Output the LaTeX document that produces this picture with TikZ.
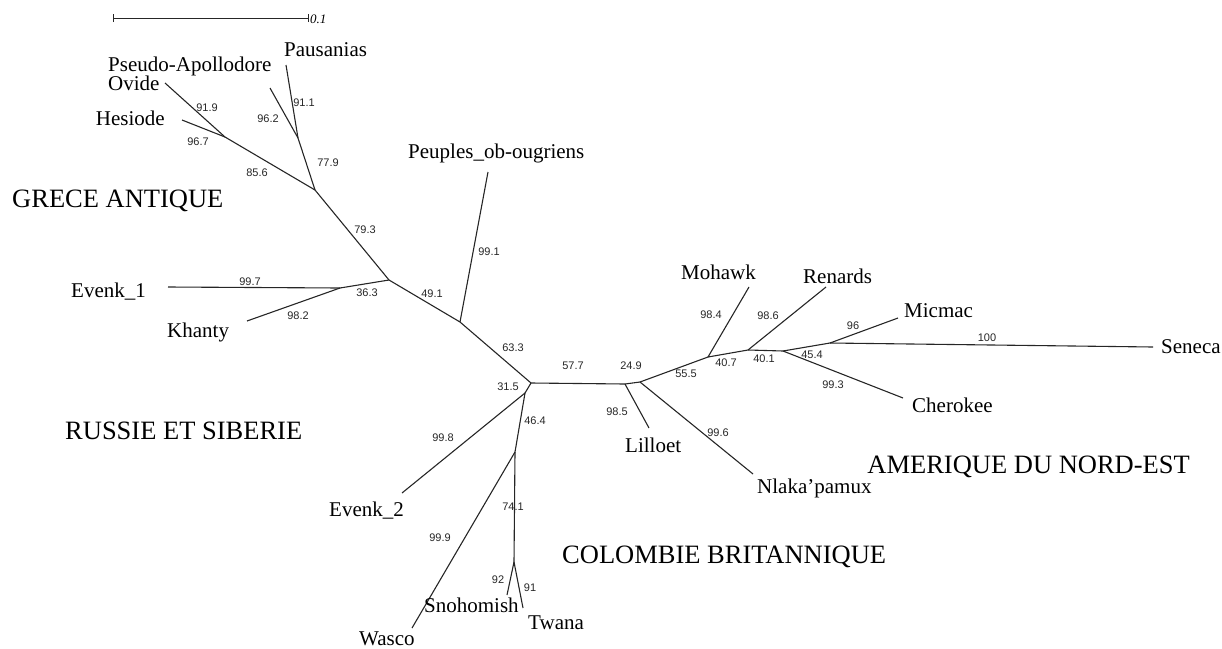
\documentclass[tikz,border=0pt]{standalone}
\usepackage{fontspec}
\setmainfont{Liberation Serif}
\newfontfamily\numfont{Liberation Sans}
\begin{document}
\begin{tikzpicture}[x=1pt,y=-1pt,
  br/.style={draw=black!85,line width=1.1pt},
  leaf/.style={inner sep=0pt,font=\fontsize{21}{24}\selectfont},
  region/.style={inner sep=0pt,font=\fontsize{26.5}{30}\selectfont},
  num/.style={inner sep=0pt,font=\numfont\fontsize{11}{12}\selectfont,text=black!85}]
\useasboundingbox (0,0) rectangle (1222,648);
% scale bar
\coordinate (sb1) at (113,18);
\coordinate (sb2) at (308,18);
\draw[br,line width=1pt] (sb1) -- (sb2);
\draw[br,line width=1pt] ([yshift=-4pt]sb1) -- ([yshift=4pt]sb1);
\draw[br,line width=1pt] ([yshift=-4pt]sb2) -- ([yshift=4pt]sb2);
\node[inner sep=0pt,anchor=west,font=\itshape\fontsize{13}{14}\selectfont] (sbl) at (310,19) {0.1};
% internal nodes
\coordinate (G1) at (225,137);
\coordinate (G2) at (298,138);
\coordinate (G3) at (315,190);
\coordinate (R0) at (340,288);
\coordinate (R1) at (389,280);
\coordinate (R2) at (460,322);
\coordinate (C0) at (531,383);
\coordinate (B1) at (625,384);
\coordinate (B2) at (640,382);
\coordinate (M1) at (708,357);
\coordinate (M2) at (748,350);
\coordinate (M3) at (783,351);
\coordinate (M4) at (830,343);
\coordinate (S1) at (525,393);
\coordinate (S2) at (515,452);
\coordinate (S3) at (514,562);
% leaves
\coordinate (lPaus) at (286,65);
\coordinate (lPsA) at (270,88);
\coordinate (lOvi) at (165,83);
\coordinate (lHes) at (182,120);
\coordinate (lEv1) at (168,287);
\coordinate (lKha) at (247,321);
\coordinate (lPeu) at (488,172);
\coordinate (lLil) at (649,428);
\coordinate (lNla) at (753,474);
\coordinate (lMoh) at (749,287);
\coordinate (lRen) at (826,287);
\coordinate (lChe) at (903,398);
\coordinate (lMic) at (898,318);
\coordinate (lSen) at (1153,347);
\coordinate (lEv2) at (402,493);
\coordinate (lWas) at (412,628);
\coordinate (lSno) at (507,595);
\coordinate (lTwa) at (523,608);
% branches
\draw[br] (lPaus) -- (G2);
\draw[br] (lPsA) -- (G2);
\draw[br] (G2) -- (G3);
\draw[br] (lOvi) -- (G1);
\draw[br] (lHes) -- (G1);
\draw[br] (G1) -- (G3);
\draw[br] (G3) -- (R1);
\draw[br] (lEv1) -- (R0);
\draw[br] (lKha) -- (R0);
\draw[br] (R0) -- (R1);
\draw[br] (R1) -- (R2);
\draw[br] (R2) -- (lPeu);
\draw[br] (R2) -- (C0);
\draw[br] (C0) -- (B1);
\draw[br] (B1) -- (lLil);
\draw[br] (B1) -- (B2);
\draw[br] (B2) -- (lNla);
\draw[br] (B2) -- (M1);
\draw[br] (M1) -- (lMoh);
\draw[br] (M1) -- (M2);
\draw[br] (M2) -- (lRen);
\draw[br] (M2) -- (M3);
\draw[br] (M3) -- (lChe);
\draw[br] (M3) -- (M4);
\draw[br] (M4) -- (lMic);
\draw[br] (M4) -- (lSen);
\draw[br] (C0) -- (S1);
\draw[br] (S1) -- (lEv2);
\draw[br] (S1) -- (S2);
\draw[br] (S2) -- (lWas);
\draw[br] (S2) -- (S3);
\draw[br] (S3) -- (lSno);
\draw[br] (S3) -- (lTwa);
% leaf labels
\node[leaf,anchor=base west] (tPsA) at (108,71) {Pseudo-Apollodore};
\node[leaf,anchor=base west] (tOvi) at (108,90) {Ovide};
\node[leaf,anchor=base east] (tHes) at (165,125) {Hesiode};
\node[leaf,anchor=base west] (tPaus) at (284,56) {Pausanias};
\node[leaf,anchor=base west] (tEv1) at (71,297) {Evenk\_1};
\node[leaf,anchor=base west] (tKha) at (167,337) {Khanty};
\node[leaf,anchor=base west] (tPeu) at (408,158) {Peuples\_ob-ougriens};
\node[leaf,anchor=base west] (tMoh) at (681,279) {Mohawk};
\node[leaf,anchor=base west] (tRen) at (803,283) {Renards};
\node[leaf,anchor=base west] (tMic) at (904,317) {Micmac};
\node[leaf,anchor=base west] (tSen) at (1161,353) {Seneca};
\node[leaf,anchor=base west] (tChe) at (912,412) {Cherokee};
\node[leaf,anchor=base west] (tLil) at (625,452) {Lilloet};
\node[leaf,anchor=base west] (tNla) at (757,493) {Nlaka’pamux};
\node[leaf,anchor=base west] (tEv2) at (329,516) {Evenk\_2};
\node[leaf,anchor=base west] (tWas) at (359,645) {Wasco};
\node[leaf,anchor=base west] (tSno) at (424,612) {Snohomish};
\node[leaf,anchor=base west] (tTwa) at (528,629) {Twana};
% region labels
\node[region,anchor=base west] (rGre) at (12,207) {GRECE ANTIQUE};
\node[region,anchor=base west] (rRus) at (65,439) {RUSSIE ET SIBERIE};
\node[region,anchor=base west] (rCol) at (562,563) {COLOMBIE BRITANNIQUE};
\node[region,anchor=base east] (rAme) at (1190,473) {AMERIQUE DU NORD-EST};
% bootstrap values
\node[num] (n1) at (207,108) {91.9};
\node[num] (n2) at (268,119) {96.2};
\node[num] (n3) at (304,103) {91.1};
\node[num] (n4) at (198,142) {96.7};
\node[num] (n5) at (328,163) {77.9};
\node[num] (n6) at (257,173) {85.6};
\node[num] (n7) at (365,230) {79.3};
\node[num] (n8) at (250,282) {99.7};
\node[num] (n9) at (367,293) {36.3};
\node[num] (n10) at (298,316) {98.2};
\node[num] (n11) at (432,294) {49.1};
\node[num] (n12) at (489,252) {99.1};
\node[num] (n13) at (513,348) {63.3};
\node[num] (n14) at (508,387) {31.5};
\node[num] (n15) at (573,366) {57.7};
\node[num] (n16) at (631,366) {24.9};
\node[num] (n17) at (617,412) {98.5};
\node[num] (n18) at (686,374) {55.5};
\node[num] (n19) at (718,433) {99.6};
\node[num] (n20) at (711,315) {98.4};
\node[num] (n21) at (726,363) {40.7};
\node[num] (n22) at (768,316) {98.6};
\node[num] (n23) at (764,359) {40.1};
\node[num] (n24) at (853,326) {96};
\node[num] (n25) at (987,338) {100};
\node[num] (n26) at (812,355) {45.4};
\node[num] (n27) at (833,385) {99.3};
\node[num] (n28) at (535,421) {46.4};
\node[num] (n29) at (443,438) {99.8};
\node[num] (n30) at (513,507) {74.1};
\node[num] (n31) at (440,538) {99.9};
\node[num] (n32) at (498,580) {92};
\node[num] (n33) at (530,588) {91};
\end{tikzpicture}
\end{document}
